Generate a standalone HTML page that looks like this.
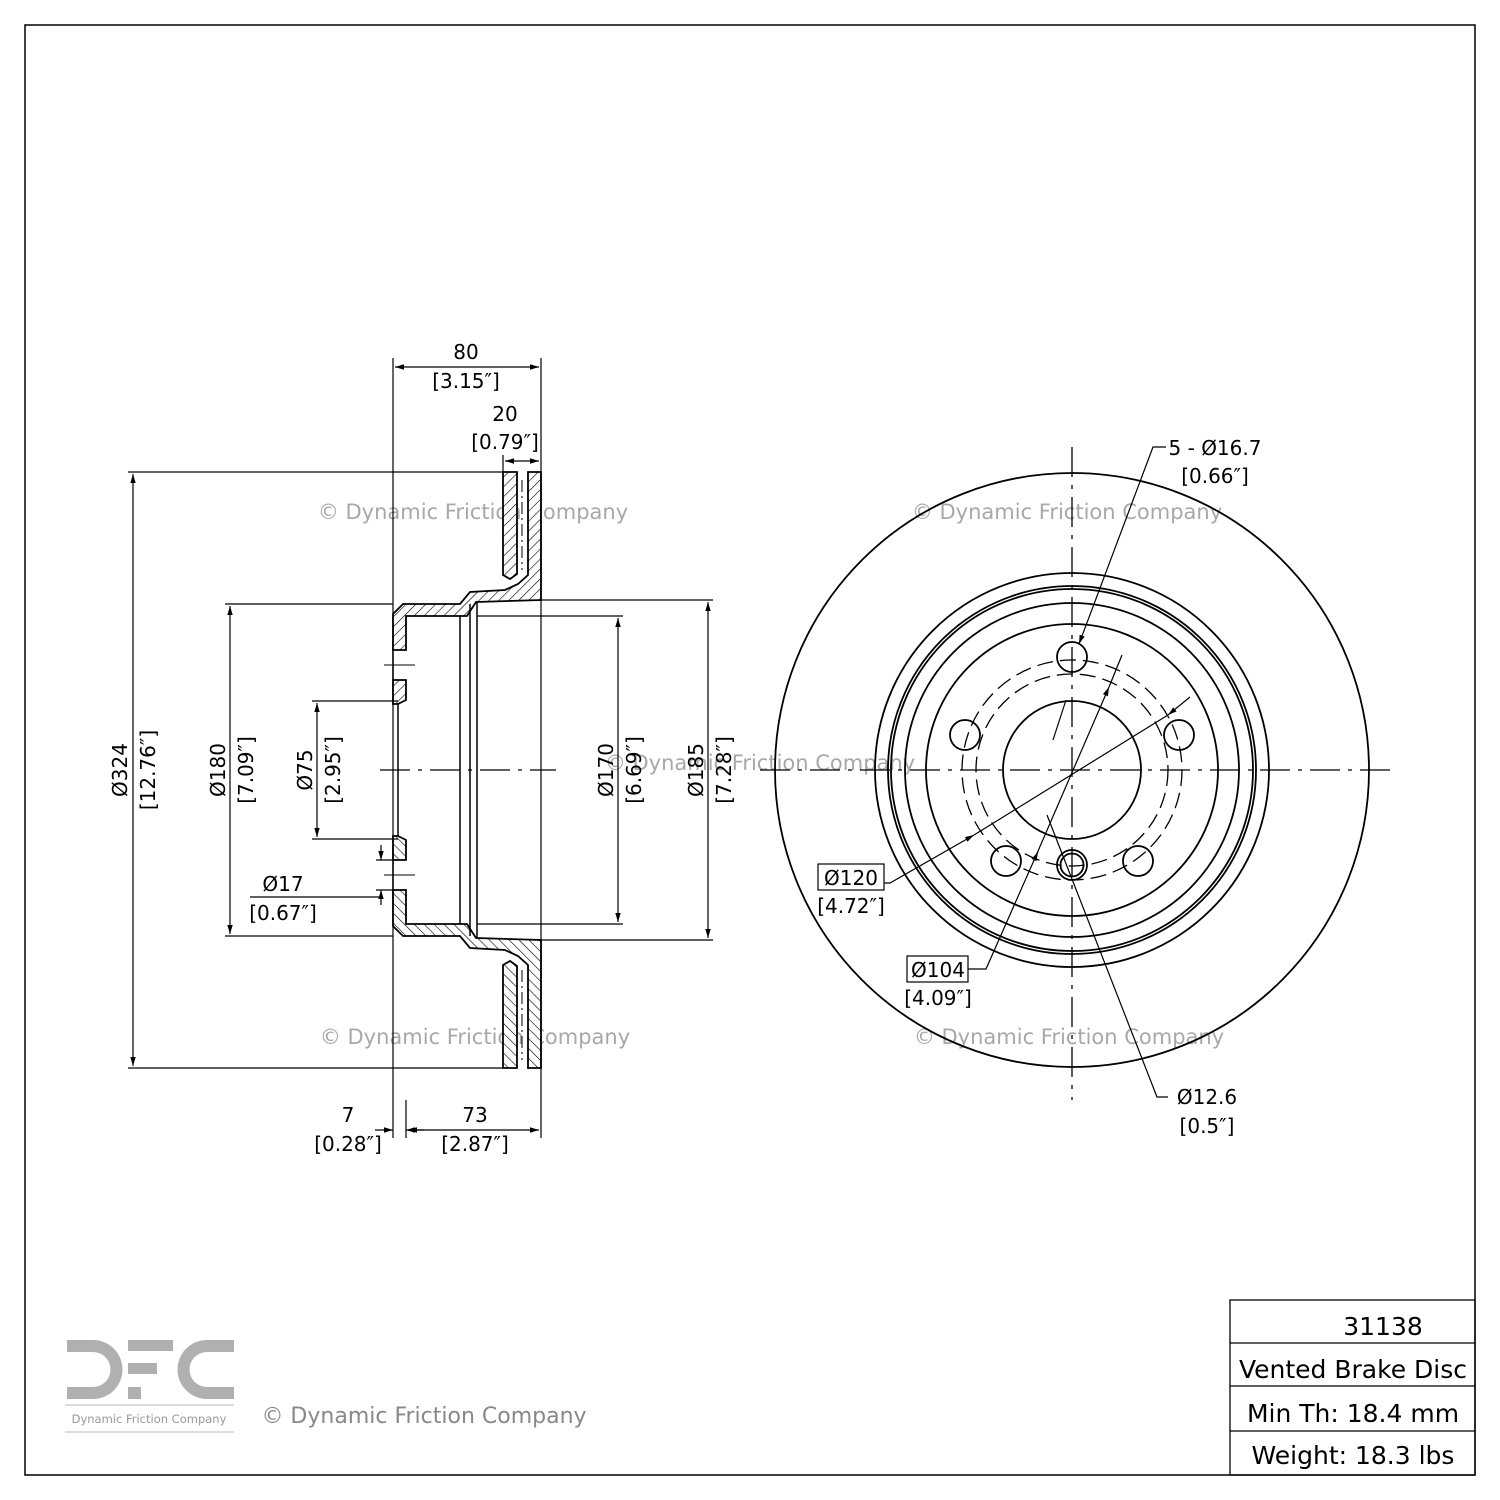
<!DOCTYPE html>
<html><head><meta charset="utf-8"><style>
html,body{margin:0;padding:0;background:#fff}
svg{display:block}
text{font-family:"DejaVu Sans","Liberation Sans",sans-serif}
</style></head><body>
<svg width="1500" height="1500" viewBox="0 0 1500 1500" xmlns="http://www.w3.org/2000/svg">
<defs>
<pattern id="h" patternUnits="userSpaceOnUse" width="7" height="7" patternTransform="rotate(45)">
<rect width="7" height="7" fill="#fff"/><line x1="0" y1="0" x2="0" y2="7" stroke="#000" stroke-width="1.2"/>
</pattern>
<marker id="a" viewBox="0 0 10 10" refX="10" refY="5" markerWidth="9" markerHeight="9" orient="auto-start-reverse" markerUnits="userSpaceOnUse"><path d="M0,2 L10,5 L0,8 Z" fill="#000"/></marker>
</defs>
<rect x="25" y="25" width="1450" height="1450" fill="none" stroke="#000" stroke-width="1.5"/>

<!-- watermarks -->
<g fill="#a8a8a8" font-size="21" text-anchor="middle">
<text x="473" y="519">© Dynamic Friction Company</text>
<text x="1067" y="519">© Dynamic Friction Company</text>
<text x="475" y="1044">© Dynamic Friction Company</text>
<text x="1069" y="1044">© Dynamic Friction Company</text>
<text x="760" y="770">© Dynamic Friction Company</text>
</g>

<!-- cross section -->
<g stroke="#000" stroke-width="1.8" fill="url(#h)">
<g id="top">
<polygon points="528,472 541,472 541,600 476,602 467,616 406,616 406,650 393,650 393,614 403,604 460,604 470,592 505,590 518,584 528,575"/>
<polygon points="503,472 517,472 517,574 510,579 503,575"/>
<polygon points="393,680 406,680 406,700 398,704 393,704"/>
</g>
<g transform="translate(0,1540) scale(1,-1)">
<polygon points="528,472 541,472 541,600 476,602 467,616 406,616 406,650 393,650 393,614 403,604 460,604 470,592 505,590 518,584 528,575"/>
<polygon points="503,472 517,472 517,574 510,579 503,575"/>
<polygon points="393,680 406,680 406,700 398,704 393,704"/>
</g>
</g>
<g stroke="#000" stroke-width="1.5" fill="none">
<line x1="398" y1="704" x2="398" y2="836"/>
<line x1="393" y1="650" x2="393" y2="680"/><line x1="393" y1="860" x2="393" y2="890"/>
<line x1="460" y1="616" x2="460" y2="924"/>
<line x1="470" y1="604" x2="470" y2="936"/>
<line x1="477" y1="602" x2="477" y2="938"/>
<line x1="522" y1="480" x2="522" y2="570" stroke-dasharray="12,4,2,4" stroke-width="1"/>
<line x1="522" y1="970" x2="522" y2="1060" stroke-dasharray="12,4,2,4" stroke-width="1"/>
<line x1="384" y1="665" x2="415" y2="665" stroke-width="1"/>
<line x1="384" y1="875" x2="415" y2="875" stroke-width="1"/>
</g>

<!-- center lines -->
<g stroke="#000" stroke-width="1.3" stroke-dasharray="30,8,4,8">
<line x1="380" y1="770" x2="556" y2="770"/>
<line x1="760" y1="770" x2="1394" y2="770"/>
<line x1="1072" y1="447" x2="1072" y2="1100"/>
</g>

<!-- dimension lines -->
<g stroke="#000" stroke-width="1.2" fill="none">
<line x1="393" y1="358" x2="393" y2="1138"/>
<line x1="406" y1="1100" x2="406" y2="1138"/>
<line x1="541" y1="358" x2="541" y2="1138"/>
<line x1="503" y1="455" x2="503" y2="472"/>
<line x1="395" y1="367" x2="539" y2="367" marker-start="url(#a)" marker-end="url(#a)"/>
<line x1="505" y1="461" x2="539" y2="461" marker-start="url(#a)" marker-end="url(#a)"/>
<line x1="128" y1="472" x2="503" y2="472"/>
<line x1="128" y1="1068" x2="503" y2="1068"/>
<line x1="133" y1="474" x2="133" y2="1066" marker-start="url(#a)" marker-end="url(#a)"/>
<line x1="225" y1="604" x2="393" y2="604"/>
<line x1="225" y1="936" x2="393" y2="936"/>
<line x1="230" y1="606" x2="230" y2="934" marker-start="url(#a)" marker-end="url(#a)"/>
<line x1="312" y1="701" x2="398" y2="701"/>
<line x1="312" y1="839" x2="398" y2="839"/>
<line x1="317" y1="703" x2="317" y2="837" marker-start="url(#a)" marker-end="url(#a)"/>
<line x1="376" y1="860" x2="393" y2="860"/><line x1="376" y1="890" x2="393" y2="890"/>
<line x1="381" y1="845" x2="381" y2="860" marker-end="url(#a)"/>
<line x1="381" y1="905" x2="381" y2="890" marker-end="url(#a)"/>
<polyline points="250,897 381,897"/>
<line x1="477" y1="616" x2="623" y2="616"/>
<line x1="477" y1="924" x2="623" y2="924"/>
<line x1="618" y1="618" x2="618" y2="922" marker-start="url(#a)" marker-end="url(#a)"/>
<line x1="541" y1="600" x2="713" y2="600"/>
<line x1="541" y1="940" x2="713" y2="940"/>
<line x1="708" y1="602" x2="708" y2="938" marker-start="url(#a)" marker-end="url(#a)"/>
<line x1="375" y1="1130" x2="393" y2="1130" marker-end="url(#a)"/>
<line x1="424" y1="1130" x2="406" y2="1130" marker-end="url(#a)"/>
<line x1="408" y1="1130" x2="539" y2="1130" marker-start="url(#a)" marker-end="url(#a)"/>
</g>
<g font-size="20" text-anchor="middle" fill="#000">
<text x="466" y="359">80</text><text x="466" y="388">[3.15″]</text>
<text x="505" y="421">20</text><text x="505" y="449">[0.79″]</text>
<text x="283" y="891">Ø17</text><text x="283" y="920">[0.67″]</text>
<text x="348" y="1122">7</text><text x="348" y="1151">[0.28″]</text>
<text x="475" y="1122">73</text><text x="475" y="1151">[2.87″]</text>
<text transform="translate(127,770) rotate(-90)">Ø324</text>
<text transform="translate(155,770) rotate(-90)">[12.76″]</text>
<text transform="translate(225,770) rotate(-90)">Ø180</text>
<text transform="translate(253,770) rotate(-90)">[7.09″]</text>
<text transform="translate(312,770) rotate(-90)">Ø75</text>
<text transform="translate(340,770) rotate(-90)">[2.95″]</text>
<text transform="translate(613,770) rotate(-90)">Ø170</text>
<text transform="translate(641,770) rotate(-90)">[6.69″]</text>
<text transform="translate(703,770) rotate(-90)">Ø185</text>
<text transform="translate(731,770) rotate(-90)">[7.28″]</text>
</g>

<!-- right disc -->
<g stroke="#000" stroke-width="1.8" fill="none">
<circle cx="1072" cy="770" r="297"/>
<circle cx="1072" cy="770" r="197"/>
<circle cx="1072" cy="770" r="184"/>
<circle cx="1072" cy="770" r="181"/>
<circle cx="1072" cy="770" r="167"/>
<circle cx="1072" cy="770" r="146"/>
<circle cx="1072" cy="770" r="69"/>
<circle cx="1072" cy="657" r="15"/>
<circle cx="1179" cy="735" r="15"/>
<circle cx="1138" cy="861" r="15"/>
<circle cx="1006" cy="861" r="15"/>
<circle cx="965" cy="735" r="15"/>
<circle cx="1072" cy="865" r="15"/>
<circle cx="1072" cy="865" r="11.5"/>
</g>
<g stroke="#000" stroke-width="1.3" fill="none" stroke-dasharray="16,7">
<circle cx="1072" cy="770" r="110"/>
<circle cx="1072" cy="770" r="96"/>
</g>
<g stroke="#000" stroke-width="1.2" fill="none">
<polyline points="1166,447 1153,447 1079,644" marker-end="url(#a)"/>
<polyline points="884,883 890,883 974,835" marker-end="url(#a)"/>
<line x1="1190" y1="697" x2="1168" y2="715" marker-end="url(#a)"/>
<line x1="974" y1="835" x2="1168" y2="715"/>
<polyline points="968,969 986,969 1035,858"/>
<line x1="1035" y1="858" x2="1038" y2="852" marker-end="url(#a)"/>
<line x1="1035" y1="858" x2="1109" y2="687" marker-end="url(#a)"/>
<line x1="1109" y1="687" x2="1122" y2="655"/>
<line x1="1050" y1="690" x2="1066" y2="732" stroke-width="0"/>
<polyline points="1168,1097 1157,1097 1047,815"/>
<line x1="1066" y1="700" x2="1053" y2="740"/>
<rect x="818" y="864" width="66" height="26"/>
<rect x="907" y="956" width="61" height="26"/>
</g>
<g font-size="20" text-anchor="middle" fill="#000">
<text x="1215" y="455">5 - Ø16.7</text><text x="1215" y="483">[0.66″]</text>
<text x="851" y="885">Ø120</text><text x="851" y="913">[4.72″]</text>
<text x="938" y="977">Ø104</text><text x="938" y="1005">[4.09″]</text>
<text x="1207" y="1104">Ø12.6</text><text x="1207" y="1133">[0.5″]</text>
</g>

<!-- logo -->
<g fill="#b0b0b0">
<path d="M67 1340 H93 A29.5 29.5 0 0 1 93 1399 H67 V1387 H93 A17.5 17.5 0 0 0 93 1352 H67 Z"/>
<rect x="128" y="1340" width="45" height="11"/>
<rect x="128" y="1363" width="29" height="11"/>
<rect x="128" y="1387" width="13" height="12"/>
<path d="M234 1340 H207 A29.5 29.5 0 0 0 207 1399 H234 V1387 H207 A17.5 17.5 0 0 1 207 1352 H234 Z"/>
</g>
<line x1="65" y1="1405" x2="234" y2="1405" stroke="#bbb" stroke-width="1"/>
<line x1="65" y1="1432" x2="234" y2="1432" stroke="#bbb" stroke-width="1"/>
<text x="149" y="1423" font-size="11.5" fill="#999" text-anchor="middle">Dynamic Friction Company</text>
<text x="424" y="1423" font-size="22" fill="#888" text-anchor="middle">© Dynamic Friction Company</text>

<!-- table -->
<g stroke="#000" stroke-width="1.3" fill="none">
<rect x="1230" y="1300" width="245" height="175"/>
<line x1="1230" y1="1343" x2="1475" y2="1343"/>
<line x1="1230" y1="1386" x2="1475" y2="1386"/>
<line x1="1230" y1="1431" x2="1475" y2="1431"/>
</g>
<g font-size="25" text-anchor="middle" fill="#000">
<text x="1383" y="1335">31138</text>
<text x="1353" y="1378">Vented Brake Disc</text>
<text x="1353" y="1422">Min Th: 18.4 mm</text>
<text x="1353" y="1464">Weight: 18.3 lbs</text>
</g>
</svg>
</body></html>
